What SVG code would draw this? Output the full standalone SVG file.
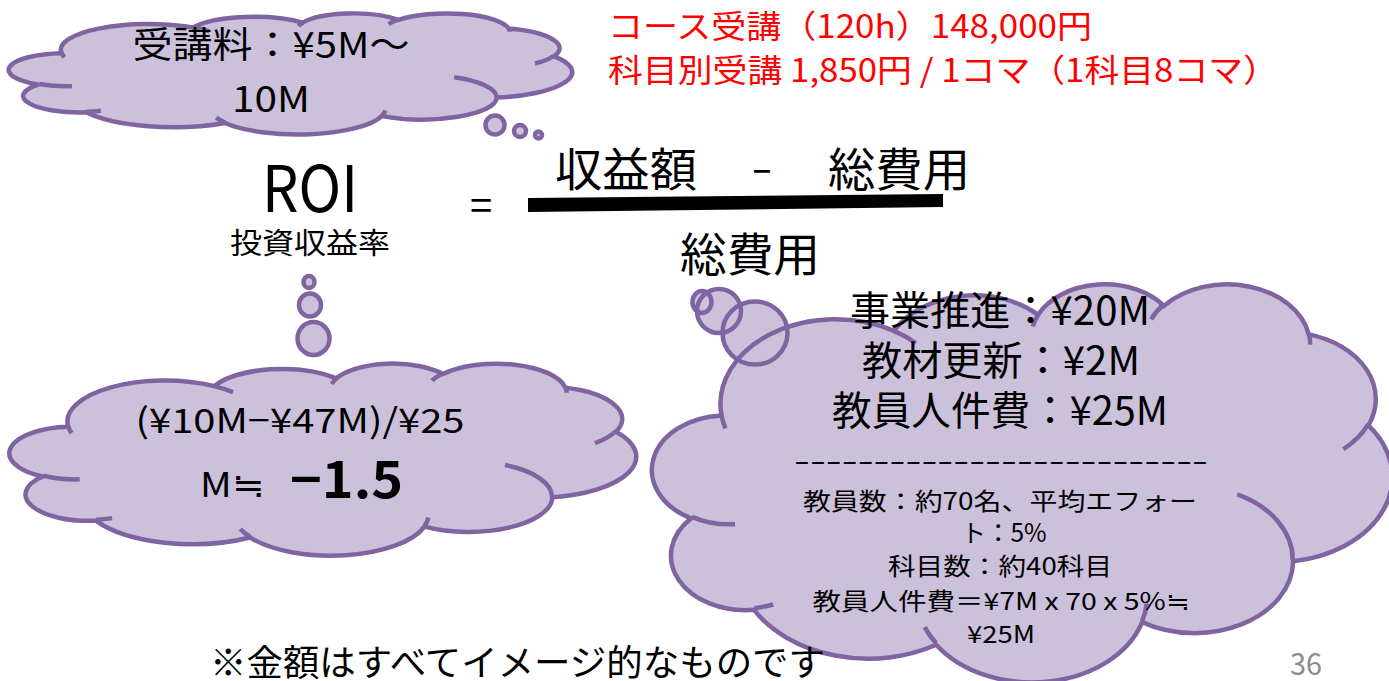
<svg xmlns="http://www.w3.org/2000/svg" xmlns:xlink="http://www.w3.org/1999/xlink" width="1389" height="681" viewBox="0 0 1389 681">
<style>
text { font-family: "Noto Sans CJK JP", "Noto Sans", sans-serif; fill: #000; }
.red { fill: #FF0000; font-size: 32px; }
.cfill { fill: #CCC1DA; stroke: none; }
.cline { fill: none; stroke: #8064A2; stroke-width: 4.5; }
.bub { fill: #CCC1DA; stroke: #8064A2; stroke-width: 4.5; }
.bfill { fill: #CCC1DA; stroke: none; }
.bline { fill: none; stroke: #8064A2; stroke-width: 4.5; }
.mid { text-anchor: middle; }
</style>
<defs>
<path id="cloud" vector-effect="non-scaling-stroke" d="M3900,14370 A6753,9190 0 0 1 14005,5202 A5333,7267 0 0 1 22456,3431 A4365,5945 0 0 1 29833,2481 A4857,6595 0 0 1 38318,5576 A5333,7273 0 0 1 41819,15459 A6775,9220 0 0 1 37404,30201 A5785,7867 0 0 1 28555,36811 A6752,9215 0 0 1 16481,39265 A7720,10543 0 0 1 5805,35470 A4360,5918 0 0 1 2113,25548 A4345,5945 0 0 1 3900,14370 Z"/>
<path id="arcs" vector-effect="non-scaling-stroke" d="M4693,26177 A4345,5945 0 0 1 2160,25380 M6928,34899 A4360,5918 0 0 1 5820,35280 M16478,39090 A6752,9215 0 0 1 15809,37348 M28827,34751 A6752,9215 0 0 1 28561,36660 M34129,22954 A5785,7867 0 0 1 37381,30090 M41798,15354 A5333,7273 0 0 1 40350,18030 M38324,5426 A4857,6595 0 0 1 38401,6690 M29078,3952 A4857,6595 0 0 1 29820,2340 M22141,4720 A4365,5945 0 0 1 22500,3330 M14000,5192 A6753,9190 0 0 1 15299,6539 M4127,15789 A6753,9190 0 0 1 3900,14371"/>
</defs>

<g id="connectors"></g>

<g id="cloud-fee">
<circle class="bub" cx="495" cy="125" r="9.5"/>
<circle class="bub" cx="520" cy="131" r="6"/>
<circle class="bub" cx="538.5" cy="135" r="3.5"/>
<g transform="translate(11,13) scale(0.012986,0.0028009)">
<use xlink:href="#cloud" class="cfill"/>
<use xlink:href="#cloud" class="cline"/>
<use xlink:href="#arcs" class="cline"/>
</g>
<text class="mid" x="271" y="58" font-size="36" textLength="277" lengthAdjust="spacingAndGlyphs">受講料：¥5M～</text>
<text class="mid" x="271" y="112" font-size="36" textLength="78" lengthAdjust="spacingAndGlyphs">10M</text>
</g>

<g id="price-note">
<text class="red" x="608" y="38" textLength="484" lengthAdjust="spacingAndGlyphs">コース受講（120h）148,000円</text>
<text class="red" x="608" y="82" textLength="670" lengthAdjust="spacingAndGlyphs">科目別受講 1,850円 / 1コマ（1科目8コマ）</text>
</g>

<g id="roi">
<text class="mid" x="310" y="212" font-size="64" textLength="96" lengthAdjust="spacingAndGlyphs">ROI</text>
<text class="mid" x="310" y="254" font-size="29" textLength="160" lengthAdjust="spacingAndGlyphs">投資収益率</text>
</g>

<g id="formula">
<text class="mid" x="481" y="220" font-size="40">=</text>
<text x="555" y="186" font-size="46" textLength="142" lengthAdjust="spacingAndGlyphs">収益額</text>
<text class="mid" x="762" y="186" font-size="40" textLength="22" lengthAdjust="spacingAndGlyphs">－</text>
<text x="828" y="186" font-size="46" textLength="142" lengthAdjust="spacingAndGlyphs">総費用</text>
<polygon points="528,198 943,194 943,207 528,212" fill="#000"/>
<text x="680" y="271" font-size="46" textLength="140" lengthAdjust="spacingAndGlyphs">総費用</text>
</g>

<g id="cloud-roi">
<ellipse class="bub" cx="309" cy="282" rx="5.5" ry="6"/>
<ellipse class="bub" cx="310" cy="305" rx="11" ry="11.5"/>
<ellipse class="bub" cx="313.5" cy="338.5" rx="16" ry="16.5"/>
<g transform="translate(12,363) scale(0.014444,0.0044444)">
<use xlink:href="#cloud" class="cfill"/>
<use xlink:href="#cloud" class="cline"/>
<use xlink:href="#arcs" class="cline"/>
</g>
<text class="mid" x="300" y="433" font-size="34" textLength="329" lengthAdjust="spacingAndGlyphs">(¥10M−¥47M)/¥25</text>
<text x="200" y="497" font-size="34" textLength="65" lengthAdjust="spacingAndGlyphs">M≒</text>
<text x="290" y="498" font-size="50" font-weight="bold" textLength="113" lengthAdjust="spacingAndGlyphs">−1.5</text>
</g>

<g id="cloud-cost">
<ellipse class="bfill" cx="702" cy="302" rx="9.5" ry="11"/>
<ellipse class="bfill" cx="719" cy="311" rx="22" ry="22"/>
<ellipse class="bfill" cx="755" cy="333" rx="32.5" ry="31.5"/>
<g transform="translate(655,283) scale(0.01706,0.009213)">
<use xlink:href="#cloud" class="cfill"/>
<use xlink:href="#cloud" class="cline"/>
<use xlink:href="#arcs" class="cline"/>
</g>
<ellipse class="bline" cx="702" cy="302" rx="9.5" ry="11"/>
<ellipse class="bline" cx="719" cy="311" rx="22" ry="22"/>
<ellipse class="bline" cx="755" cy="333" rx="32.5" ry="31.5"/>
<text class="mid" x="1000" y="325" font-size="40" textLength="300" lengthAdjust="spacingAndGlyphs">事業推進：¥20M</text>
<text class="mid" x="1001" y="375" font-size="40" textLength="278" lengthAdjust="spacingAndGlyphs">教材更新：¥2M</text>
<text class="mid" x="1000" y="425" font-size="40" textLength="336" lengthAdjust="spacingAndGlyphs">教員人件費：¥25M</text>
<text class="mid" x="1001" y="471" font-size="30" textLength="414" lengthAdjust="spacingAndGlyphs">--------------------------</text>
<text class="mid" x="1000" y="510" font-size="24" textLength="394" lengthAdjust="spacingAndGlyphs">教員数：約70名、平均エフォー</text>
<text class="mid" x="1004" y="542" font-size="25" textLength="85" lengthAdjust="spacingAndGlyphs">ト：5%</text>
<text class="mid" x="1000" y="575" font-size="24" textLength="224" lengthAdjust="spacingAndGlyphs">科目数：約40科目</text>
<text class="mid" x="1001" y="610" font-size="24" textLength="377" lengthAdjust="spacingAndGlyphs">教員人件費＝¥7M x 70 x 5%≒</text>
<text class="mid" x="1001" y="643" font-size="24" textLength="68" lengthAdjust="spacingAndGlyphs">¥25M</text>
</g>

<g id="footer">
<text x="210" y="676" font-size="36" textLength="615" lengthAdjust="spacingAndGlyphs">※金額はすべてイメージ的なものです</text>
<text x="1290" y="675" font-size="30" style="fill:#8C8C8C" textLength="32" lengthAdjust="spacingAndGlyphs">36</text>
</g>
</svg>
